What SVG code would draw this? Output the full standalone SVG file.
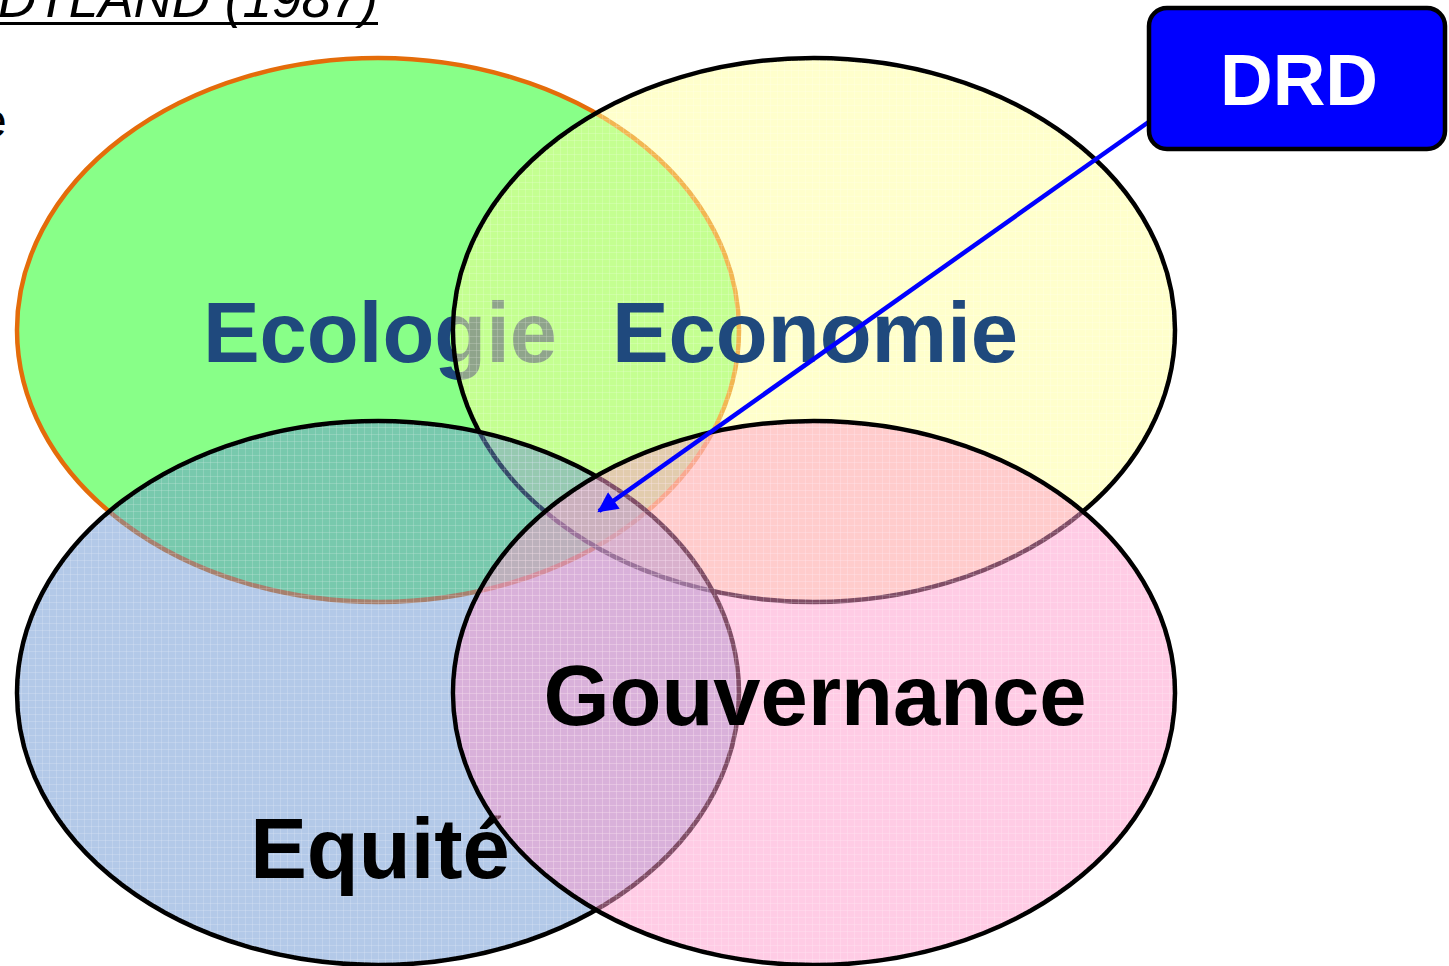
<svg xmlns="http://www.w3.org/2000/svg" width="1449" height="966" viewBox="0 0 1449 966">
  <style>
    .lbl { font-family: "Liberation Sans", Arial, sans-serif; font-weight: bold; font-size: 85px; }
    .blue-t { fill: #1F497D; }
    .black-t { fill: #000000; }
    .ell { stroke-width: 4.5; }
  </style>
  <defs>
    <pattern id="grid" width="7" height="7" patternUnits="userSpaceOnUse">
      <path d="M0 0.5H7M0.5 0V7" stroke="#ffffff" stroke-opacity="0.35" stroke-width="1" fill="none"/>
    </pattern>
    <marker id="arrow" viewBox="0 0 10 10" refX="9" refY="5" markerWidth="5.5" markerHeight="4.5" orient="auto" markerUnits="strokeWidth">
      <path d="M0 0L10 5L0 10z" fill="#0000FF"/>
    </marker>
  </defs>
  <rect width="1449" height="966" fill="#ffffff"/>

  <g id="title">
    <text x="378" y="17" text-anchor="end" font-family="'Liberation Sans', Arial, sans-serif" font-style="italic" font-size="53" fill="#000">DTLAND (1987)</text>
    <line x1="0" y1="23.5" x2="378" y2="23.5" stroke="#000" stroke-width="3"/>
    <text x="-20" y="137" font-family="'Liberation Sans', Arial, sans-serif" font-size="48" fill="#000">e</text>
  </g>

  <g id="ecologie">
    <ellipse cx="378" cy="330" rx="361" ry="272" fill="#88FF88" stroke="#E46C0A" class="ell"/>
    <text class="lbl blue-t" x="380" y="362" text-anchor="middle">Ecologie</text>
  </g>

  <g id="economie">
    <ellipse cx="814" cy="330" rx="361" ry="272" fill="#FFFF99" fill-opacity="0.5" stroke="#000" class="ell"/>
    <ellipse cx="814" cy="330" rx="359" ry="270" fill="url(#grid)" opacity="0.5"/>
    <text class="lbl blue-t" x="815" y="362" text-anchor="middle">Economie</text>
  </g>

  <g id="equite">
    <ellipse cx="378" cy="693" rx="361" ry="272" fill="#6894D2" fill-opacity="0.5" stroke="#000" class="ell"/>
    <ellipse cx="378" cy="693" rx="359" ry="270" fill="url(#grid)" opacity="0.5"/>
    <text class="lbl black-t" x="380" y="878" text-anchor="middle">Equité</text>
  </g>

  <g id="gouvernance">
    <ellipse cx="814" cy="693" rx="361" ry="272" fill="#FF99CC" fill-opacity="0.5" stroke="#000" class="ell"/>
    <ellipse cx="814" cy="693" rx="359" ry="270" fill="url(#grid)" opacity="0.5"/>
    <text class="lbl black-t" x="815" y="725" text-anchor="middle">Gouvernance</text>
  </g>

  <g id="connectors">
    <line x1="1150" y1="121" x2="599" y2="511" stroke="#0000FF" stroke-width="4.5" marker-end="url(#arrow)"/>
  </g>

  <g id="drd">
    <rect x="1149" y="8" width="296" height="141" rx="18" ry="18" fill="#0000FF" stroke="#000" stroke-width="4.5"/>
    <text x="1299" y="105" text-anchor="middle" font-family="'Liberation Sans', Arial, sans-serif" font-weight="bold" font-size="73" fill="#ffffff">DRD</text>
  </g>
</svg>
